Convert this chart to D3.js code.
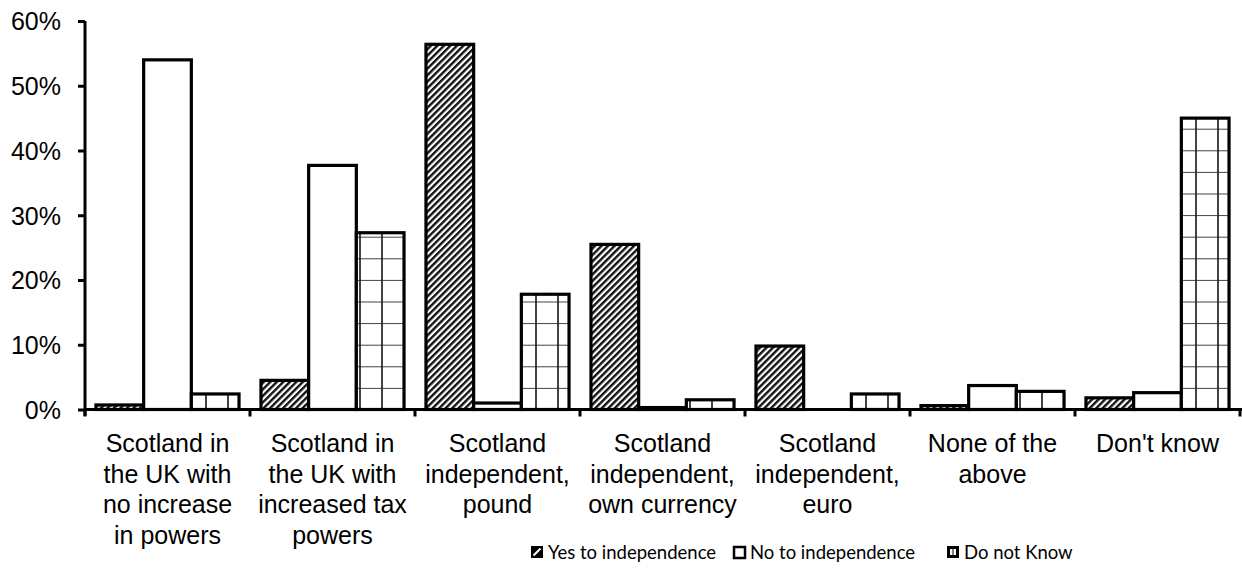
<!DOCTYPE html>
<html>
<head>
<meta charset="utf-8">
<script src="https://cdn.jsdelivr.net/npm/d3@7"></script>
<style>
  html, body { margin: 0; padding: 0; background: #fff; }
  svg { display: block; }
</style>
</head>
<body>
<svg id="chart" width="1242" height="574"></svg>
<script>
// Preferred constitutional option by referendum intention
const categories = [
  ["Scotland in", "the UK with", "no increase", "in powers"],
  ["Scotland in", "the UK with", "increased tax", "powers"],
  ["Scotland", "independent,", "pound"],
  ["Scotland", "independent,", "own currency"],
  ["Scotland", "independent,", "euro"],
  ["None of the", "above"],
  ["Don't know"]
];
const seriesNames = ["Yes to independence", "No to independence", "Do not Know"];
const yesValues = [0.7, 4.5, 56.4, 25.5, 9.8, 0.6, 1.8];
const noValues  = [54.0, 37.7, 1.0, 0.3, 0.0, 3.7, 2.6];
const dkValues  = [2.4, 27.3, 17.8, 1.5, 2.4, 2.8, 45.0];
const yTicks = [0, 10, 20, 30, 40, 50, 60];

const svg = d3.select("#chart");
const margin = { left: 85, right: 1240, top: 21, bottom: 409.5 };
const axisFont = "'Liberation Sans', Arial, sans-serif";

const catIds = categories.map((c, i) => i);
const x = d3.scaleBand().domain(catIds).range([margin.left, margin.right]).padding(0);
const xs = d3.scaleBand().domain([0, 1, 2]).range([0, x.bandwidth()])
  .paddingInner(0).paddingOuter(0.23);
const y = d3.scaleLinear().domain([0, 60]).range([margin.bottom, margin.top]);

// Fill patterns
const defs = svg.append("defs");
const hatch = defs.append("pattern")
  .attr("id", "hatch").attr("patternUnits", "userSpaceOnUse")
  .attr("width", 4.6).attr("height", 10)
  .attr("patternTransform", "rotate(45)");
hatch.append("rect").attr("width", 4.6).attr("height", 10).attr("fill", "#fff");
hatch.append("line").attr("x1", 1.2).attr("x2", 1.2).attr("y1", 0).attr("y2", 10)
  .attr("stroke", "#111").attr("stroke-width", 2.4);

const grid = defs.append("pattern")
  .attr("id", "grid").attr("patternUnits", "userSpaceOnUse")
  .attr("x", 0).attr("y", margin.bottom % 21.6)
  .attr("width", 22).attr("height", 21.6);
grid.append("rect").attr("width", 22).attr("height", 21.6).attr("fill", "#fff");
grid.append("line").attr("x1", 8).attr("x2", 8).attr("y1", 0).attr("y2", 21.6)
  .attr("stroke", "#222").attr("stroke-width", 1.7);
grid.append("line").attr("x1", 0).attr("x2", 22).attr("y1", 0).attr("y2", 0)
  .attr("stroke", "#222").attr("stroke-width", 1.7);

const fills = ["url(#hatch)", "#fff", "url(#grid)"];
const seriesValues = [yesValues, noValues, dkValues];

// Bars (zero values are skipped)
const bars = svg.append("g");
seriesValues.forEach((vals, s) => {
  const rows = vals.map((v, i) => ({ cat: i, value: v })).filter(r => r.value > 0);
  bars.selectAll(null)
    .data(rows)
    .enter().append("rect")
    .attr("x", r => x(r.cat) + xs(s))
    .attr("y", r => y(r.value))
    .attr("width", xs.bandwidth())
    .attr("height", r => y(0) - y(r.value))
    .attr("fill", fills[s])
    .attr("stroke", "#000")
    .attr("stroke-width", 3.2);
});

// Y axis
const yAxis = d3.axisLeft(y).tickValues(yTicks).tickSize(7).tickPadding(17)
  .tickFormat(d => d + "%");
const gy = svg.append("g").attr("transform", `translate(${margin.left},0)`).call(yAxis);
gy.select(".domain").attr("stroke-width", 3).attr("d", `M0,${margin.top}V${margin.bottom + 6}`);
gy.selectAll(".tick line").attr("stroke-width", 3);
gy.selectAll(".tick text")
  .attr("font-family", axisFont)
  .attr("font-size", 25).attr("fill", "#000").attr("dy", "0.35em");

// X axis with ticks at category boundaries
const gx = svg.append("g").attr("transform", `translate(0,${margin.bottom})`);
gx.append("line").attr("x1", margin.left).attr("x2", 1242).attr("y1", 0).attr("y2", 0)
  .attr("stroke", "#000").attr("stroke-width", 3);
const boundaries = catIds.map(i => x(i)).concat([x(catIds.length - 1) + x.bandwidth()]);
gx.selectAll(null).data(boundaries).enter().append("line")
  .attr("x1", d => d).attr("x2", d => d).attr("y1", 0).attr("y2", 7)
  .attr("stroke", "#000").attr("stroke-width", 3);

// Category labels
const labels = svg.append("g")
  .attr("font-family", axisFont)
  .attr("font-size", 25).attr("text-anchor", "middle").attr("fill", "#000");
categories.forEach((lines, i) => {
  const cx = x(i) + x.bandwidth() / 2;
  const t = labels.append("text").attr("x", cx).attr("y", 452);
  lines.forEach((ln, j) => {
    t.append("tspan").attr("x", cx).attr("y", 452 + j * 30.5).text(ln);
  });
});

// Legend
const legendItems = [
  { name: seriesNames[0], x: 531 },
  { name: seriesNames[1], x: 733 },
  { name: seriesNames[2], x: 947 }
];
const lg = svg.append("g").attr("font-family", "Lato, 'Open Sans', sans-serif")
  .attr("font-size", 18.5).attr("fill", "#000");
legendItems.forEach((it, k) => {
  const g = lg.append("g").attr("transform", `translate(${it.x},546)`);
  if (k === 0) {
    g.append("rect").attr("x", 0).attr("y", 0).attr("width", 12).attr("height", 12).attr("fill", "#000");
    g.append("line").attr("x1", 2.5).attr("y1", 9.5).attr("x2", 9.5).attr("y2", 2.5)
      .attr("stroke", "#fff").attr("stroke-width", 2);
  } else if (k === 1) {
    g.append("rect").attr("x", 1).attr("y", 1).attr("width", 11).attr("height", 11)
      .attr("fill", "#fff").attr("stroke", "#000").attr("stroke-width", 2.5);
  } else {
    g.append("rect").attr("x", 0).attr("y", 0).attr("width", 12).attr("height", 12).attr("fill", "#000");
    g.append("rect").attr("x", 3).attr("y", 3).attr("width", 2.5).attr("height", 6).attr("fill", "#fff");
    g.append("rect").attr("x", 6.5).attr("y", 3).attr("width", 2.5).attr("height", 6).attr("fill", "#fff");
  }
  g.append("text").attr("x", 17).attr("y", 12.8).text(it.name);
});
</script>
</body>
</html>
